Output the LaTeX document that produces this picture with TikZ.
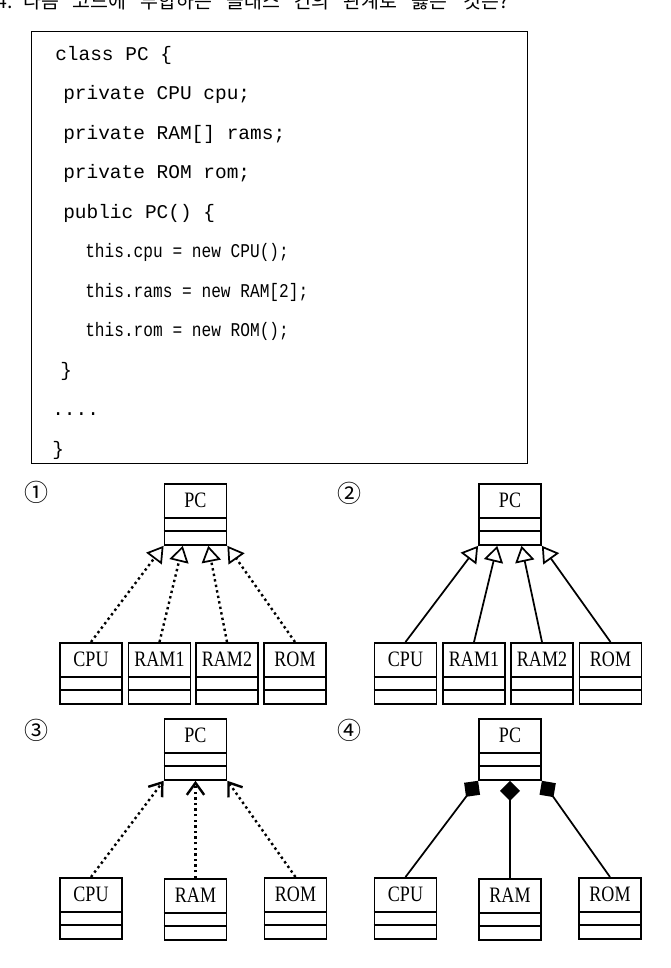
\documentclass[tikz,border=0pt]{standalone}
\usepackage{graphicx}
\usepackage{fontspec}
\setmainfont{Liberation Serif}
\setmonofont{Liberation Mono}
\newfontfamily\krfont{Noto Sans CJK KR}
\usetikzlibrary{arrows.meta,calc}

\tikzset{
  cls/.style={draw, line width=1.35pt, minimum width=46.5pt, minimum height=45.75pt, inner sep=0pt, anchor=north},
  clsname/.style={font=\fontsize{16.5pt}{18pt}\selectfont, inner sep=0pt},
  cmpline/.style={line width=1.35pt},
  codeline/.style={anchor=base west, inner sep=0pt, font=\ttfamily\fontsize{14.6pt}{16pt}\selectfont},
  num/.style={font=\krfont\fontsize{18pt}{20pt}\selectfont, inner sep=0pt},
  inh/.style={line width=1.3pt, -{Triangle[open, length=12pt, width=14.5pt, line width=1.3pt]}},
  dots/.style={line width=1.8pt, dash pattern=on 1.8pt off 2.4pt},
  dep/.style={line width=1.3pt, -{Straight Barb[length=9pt, width=13pt, line width=1.8pt]}},
  comp/.style={line width=1.3pt, -{Diamond[length=15pt, width=15pt, fill=black]}},
}

\newcommand\umlbox[4]{%
  \node[cls] (#1) at (#2,#3) {};
  \node[clsname] (#1t) at ($(#1.north)+(0,17.5)$) {\scalebox{0.82}[1]{#4}};
  \draw[cmpline] ($(#1.north west)+(0,35)$) -- ($(#1.north east)+(0,35)$);
  \draw[cmpline] ($(#1.north west)+(0,48)$) -- ($(#1.north east)+(0,48)$);
}

\begin{document}
\begin{tikzpicture}[x=0.75pt, y=-0.75pt]
\useasboundingbox (0,0) rectangle (671,968);
\fill[white] (0,0) rectangle (671,968);

% title (cut at the top edge, as in the reference)
\node[anchor=base west, inner sep=0pt, font=\krfont\fontsize{14.6pt}{16pt}\selectfont] (title) at (-4,8)
  {4.\hspace{8pt}다음\hspace{10.5pt}코드에\hspace{10.5pt}부합하는\hspace{10.5pt}클래스\hspace{10.5pt}간의\hspace{10.5pt}관계로\hspace{10.5pt}옳은\hspace{12pt}것은?};

% code box
\node[draw, line width=1.1pt, inner sep=0pt, minimum width=372pt, minimum height=324pt, anchor=north west] (code) at (31,31) {};
\node[codeline] (c1) at (55,60) {class PC \{};
\node[codeline] (c2) at (63,99.5) {private CPU cpu;};
\node[codeline] (c3) at (63,139) {private RAM[] rams;};
\node[codeline] (c4) at (63,178.5) {private ROM rom;};
\node[codeline] (c5) at (63,218) {public PC() \{};
\node[codeline] (c6) at (85,257.5) {\scalebox{0.83}[1]{this.cpu = new CPU();}};
\node[codeline] (c7) at (85,297) {\scalebox{0.83}[1]{this.rams = new RAM[2];}};
\node[codeline] (c8) at (85,336.5) {\scalebox{0.83}[1]{this.rom = new ROM();}};
\node[codeline] (c9) at (60,376) {\}};
\node[codeline] (c10) at (52,415.5) {....};
\node[codeline] (c11) at (52,455) {\}};

% numbers
\node[num] (n1) at (36,492) {①};
\node[num] (n2) at (349,493) {②};
\node[num] (n3) at (36,730) {③};
\node[num] (n4) at (349,730) {④};

% diagram 1
\umlbox{pcA}{195.5}{483}{PC}
\umlbox{cpuA}{91}{642}{CPU}
\umlbox{ramA}{159.5}{642}{RAM1}
\umlbox{ramB}{227}{642}{RAM2}
\umlbox{romA}{295}{642}{ROM}
\draw[inh,dots] (cpuA.north) -- (pcA.south west);
\draw[inh,dots] (ramA.north) -- ($(pcA.south west)!0.3!(pcA.south east)$);
\draw[inh,dots] (ramB.north) -- ($(pcA.south west)!0.7!(pcA.south east)$);
\draw[inh,dots] (romA.north) -- (pcA.south east);

% diagram 2
\umlbox{pcB}{510}{483}{PC}
\umlbox{cpuB}{405.5}{642}{CPU}
\umlbox{ramC}{474}{642}{RAM1}
\umlbox{ramD}{542}{642}{RAM2}
\umlbox{romB}{610.5}{642}{ROM}
\draw[inh] (cpuB.north) -- (pcB.south west);
\draw[inh] (ramC.north) -- ($(pcB.south west)!0.3!(pcB.south east)$);
\draw[inh] (ramD.north) -- ($(pcB.south west)!0.68!(pcB.south east)$);
\draw[inh] (romB.north) -- (pcB.south east);

% diagram 3
\umlbox{pcC}{195.5}{718}{PC}
\umlbox{cpuC}{91}{877}{CPU}
\umlbox{ramE}{195.5}{878}{RAM}
\umlbox{romC}{295.5}{877}{ROM}
\draw[dep,dots] (cpuC.north) -- (pcC.south west);
\draw[dep,dots] (ramE.north) -- (pcC.south);
\draw[dep,dots] (romC.north) -- (pcC.south east);

% diagram 4
\umlbox{pcD}{510}{718}{PC}
\umlbox{cpuD}{405.5}{877}{CPU}
\umlbox{ramF}{510}{878}{RAM}
\umlbox{romD}{610}{877}{ROM}
\draw[comp] (cpuD.north) -- (pcD.south west);
\draw[comp] (ramF.north) -- (pcD.south);
\draw[comp] (romD.north) -- (pcD.south east);
\end{tikzpicture}
\end{document}
